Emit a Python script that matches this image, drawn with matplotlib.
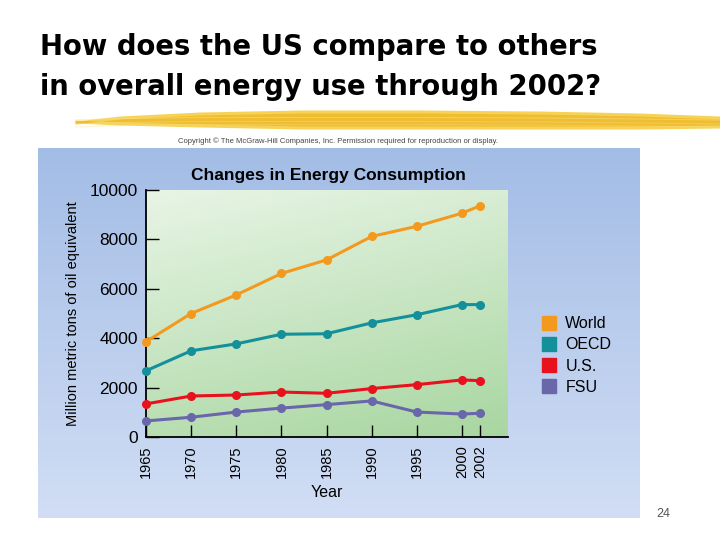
import matplotlib
matplotlib.use("Agg")
import matplotlib.pyplot as plt
import numpy as np
from matplotlib.lines import Line2D

# data
years = [1965, 1970, 1975, 1980, 1985, 1990, 1995, 2000, 2002]
world = [3860, 5000, 5750, 6620, 7170, 8120, 8530, 9060, 9360]
oecd = [2680, 3490, 3770, 4160, 4180, 4620, 4950, 5360, 5360]
us = [1340, 1660, 1700, 1820, 1770, 1960, 2120, 2310, 2280]
fsu = [650, 800, 1010, 1170, 1310, 1460, 1010, 930, 960]

names = ["World", "OECD", "U.S.", "FSU"]
colors = ["#F39A1E", "#13909A", "#E8121E", "#6A66AA"]
yticks = [0, 2000, 4000, 6000, 8000, 10000]

plt.rcParams["font.family"] = ["Liberation Sans", "DejaVu Sans"]

fig = plt.figure(figsize=(7.2, 5.4), dpi=100)
fig.patch.set_facecolor("white")

# overlay in pixel coordinates for slide decorations
deco = fig.add_axes([0, 0, 1, 1])
deco.set_xlim(0, 720)
deco.set_ylim(540, 0)
deco.axis("off")

deco.text(40, 47, "How does the US compare to others", fontsize=19.8,
          family="DejaVu Sans", fontweight="bold", va="center", ha="left", color="black")
deco.text(40, 87, "in overall energy use through 2002?", fontsize=19.8,
          family="DejaVu Sans", fontweight="bold", va="center", ha="left", color="black")

# yellow brush stroke
bx = np.array([75, 120, 200, 300, 420, 540, 640, 720])
top = np.array([121, 116, 112, 110, 110, 111, 113, 116])
bot = np.array([123, 125, 127, 129, 129, 129, 129, 128])
deco.fill_between(bx, top, bot, color="#F5CF45", alpha=0.9, lw=0)
deco.fill_between(bx, top + 3, bot - 3, color="#EDB51E", alpha=0.7, lw=0)
for off, a in [(-2, 0.5), (2, 0.4), (5, 0.35)]:
    deco.plot(bx, (top + bot) / 2 + off, color="#F8E08A", lw=0.8, alpha=a)

deco.text(338, 141, "Copyright \u00a9 The McGraw-Hill Companies, Inc. Permission required for reproduction or display.",
          fontsize=5.5, color="#444444", ha="center", va="center")
deco.text(663, 514, "24", fontsize=9, color="#555555", ha="center", va="center")

# blue gradient panel
panel = fig.add_axes([38 / 720, 22 / 540, 602 / 720, 370 / 540])
grad = np.linspace(0, 1, 256).reshape(-1, 1)
top_c = np.array([0.64, 0.74, 0.90])
bot_c = np.array([0.82, 0.87, 0.96])
img = top_c + (bot_c - top_c) * grad[:, :, None]
panel.imshow(img, aspect="auto", extent=[0, 1, 0, 1], origin="upper")
panel.axis("off")

panel.text(0.482, 0.925, "Changes in Energy Consumption", transform=panel.transAxes,
           fontsize=12.5, fontweight="bold", ha="center", va="center")

# main chart
ax = fig.add_axes([146 / 720, 103 / 540, 362 / 720, 247 / 540])
xmax = 2005.1
gy, gx = np.mgrid[0:1:200j, 0:1:200j]
t = np.clip(0.75 * gy + 0.25 * gx, 0, 1)
g_top = np.array([0.91, 0.96, 0.90])
g_bot = np.array([0.66, 0.84, 0.63])
gimg = g_top + (g_bot - g_top) * t[:, :, None]
ax.imshow(gimg, aspect="auto", extent=[1965, xmax, 0, 10000], origin="upper", zorder=0)

for vals, c in zip([world, oecd, us, fsu], colors):
    ax.plot(years, vals, color=c, lw=2.2, marker="o", ms=5.5, zorder=3, clip_on=False)

ax.set_xlim(1965, xmax)
ax.set_ylim(0, 10000)
ax.set_xticks(years)
ax.set_xticklabels([str(y) for y in years], rotation=90, fontsize=10.5)
ax.set_yticks(yticks)
ax.set_yticklabels([str(v) for v in yticks], fontsize=12.5)
ax.tick_params(direction="in", length=9, width=1, color="black", pad=6)
for s in ["top", "right"]:
    ax.spines[s].set_visible(False)
ax.spines["left"].set_linewidth(1.3)
ax.spines["bottom"].set_linewidth(1.3)
ax.set_xlabel("Year", fontsize=11.5, labelpad=5)
ax.set_ylabel("Million metric tons of oil equivalent", fontsize=10.5, labelpad=7)

handles = [Line2D([], [], marker="s", ls="none", color=c, ms=10) for c in colors]
fig.legend(handles, names, loc="upper left", bbox_to_anchor=(527 / 720, 1 - 302 / 540),
           frameon=False, fontsize=11.5, labelspacing=0.38, handletextpad=0.5,
           handlelength=1.0)

fig.savefig("out.png", dpi=100)
